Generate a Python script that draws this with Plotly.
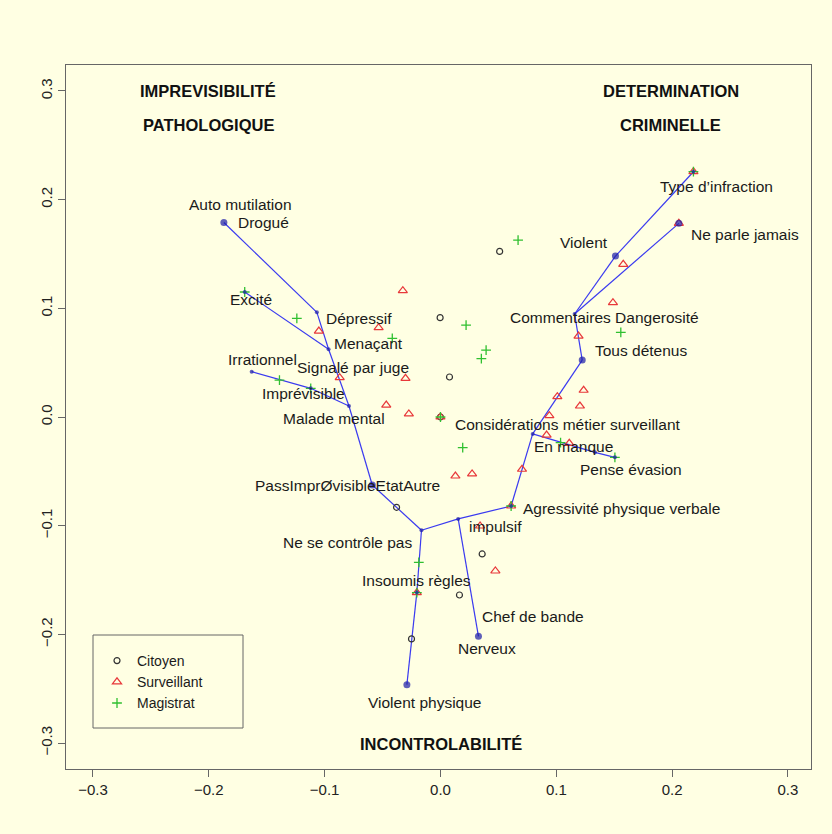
import plotly.graph_objects as go

# --- Individual respondents, by group (first two factorial axes) ---
citoyen_x = [0.0511, -0.0003, 0.0078, 0.0, -0.0379, 0.036, 0.0164, -0.025]
citoyen_y = [0.1524, 0.0914, 0.0368, 0.0, -0.0831, -0.126, -0.1638, -0.2042]

surveillant_x = [-0.0325, -0.0534, -0.105, -0.087, -0.0302, -0.0468, -0.0273, 0.0,
                 0.0129, 0.0273, 0.0704, 0.061, 0.0342, 0.0474, -0.0204, 0.0916,
                 0.1112, 0.094, 0.1204, 0.1009, 0.1236, 0.1192, 0.1489, 0.1578,
                 0.2058, 0.2184]
surveillant_y = [0.1162, 0.0822, 0.0791, 0.0362, 0.0356, 0.011, 0.0028, 0.0,
                 -0.0543, -0.0524, -0.0481, -0.0819, -0.1003, -0.1417, -0.1616, -0.0166,
                 -0.0242, 0.0012, 0.0101, 0.0187, 0.0246, 0.0745, 0.1052, 0.1405,
                 0.1782, 0.2257]

magistrat_x = [0.067, 0.0221, 0.0394, 0.0353, -0.0416, -0.124, -0.169, -0.139,
               -0.112, 0.0, 0.0192, 0.1037, 0.1506, 0.1557, -0.0187, -0.0204,
               0.061, 0.2184]
magistrat_y = [0.1628, 0.0846, 0.0616, 0.0537, 0.0724, 0.0908, 0.115, 0.034,
               0.0264, 0.0, -0.0282, -0.0236, -0.0371, 0.0779, -0.1337, -0.1616,
               -0.0819, 0.2257]

# --- Tree of modalities ---
node_x = [-0.187, -0.1067, -0.0966, -0.169, -0.163, -0.112, -0.079, -0.0589,
          -0.0164, -0.0204, -0.029, 0.0153, 0.0328, 0.061, 0.0796, 0.1334,
          0.1506, 0.1224, 0.1158, 0.1511, 0.2184, 0.2058]
node_y = [0.179, 0.0963, 0.0623, 0.115, 0.0417, 0.0264, 0.0101, -0.0626,
          -0.1042, -0.1616, -0.2463, -0.0938, -0.2018, -0.0819, -0.0156, -0.0325,
          -0.0371, 0.0524, 0.0948, 0.1481, 0.2257, 0.1782]
node_big = [1, 0, 0, 0, 0, 0, 0, 1, 0, 0, 1, 0, 1, 0, 0, 0, 0, 1, 0, 1, 0, 1]
edges = [(0, 1), (1, 2), (3, 2), (2, 6), (4, 5), (5, 6), (6, 7), (7, 8), (8, 9),
         (9, 10), (8, 11), (11, 12), (11, 13), (13, 14), (14, 15), (15, 16),
         (14, 17), (17, 18), (18, 19), (19, 20), (18, 21)]

# --- Modality labels (text, x, y) ---
label_text = ["Auto mutilation", "Drogué", "Excité", "Dépressif", "Menaçant",
              "Irrationnel", "Signalé par juge", "Imprévisible", "Malade mental",
              "PassImprØvisibleEtatAutre", "Ne se contrôle pas", "Insoumis règles",
              "Chef de bande", "Nerveux", "Violent physique", "impulsif",
              "Agressivité physique verbale", "Considérations métier surveillant",
              "En manque", "Pense évasion", "Tous détenus", "Commentaires Dangerosité",
              "Violent", "Ne parle jamais", "Type d’infraction"]
label_x = [-0.1727, -0.1529, -0.1636, -0.0707, -0.0623, -0.1535, -0.0755, -0.1184,
           -0.0922, -0.0805, -0.0805, -0.0208, 0.0798, 0.0401, -0.0134, 0.0479,
           0.1567, 0.1103, 0.1152, 0.1645, 0.1728, 0.1414, 0.1237, 0.2625, 0.2379]
label_y = [0.1957, 0.1794, 0.1083, 0.0905, 0.0678, 0.0525, 0.0458, 0.0212,
           -0.0018, -0.0626, -0.1157, -0.1509, -0.1838, -0.2128, -0.2629, -0.1003,
           -0.084, -0.0068, -0.0267, -0.0481, 0.061, 0.0914, 0.1604, 0.1675, 0.2119]

# --- Axis poles ---
pole_text = ["IMPREVISIBILITÉ", "PATHOLOGIQUE", "DETERMINATION", "CRIMINELLE",
             "INCONTROLABILITÉ"]
pole_x = [-0.2007, -0.2007, 0.199, 0.199, 0.0004]
pole_y = [0.3, 0.2687, 0.3, 0.2687, -0.3009]

ticks = [-0.3, -0.2, -0.1, 0.0, 0.1, 0.2, 0.3]
tick_labels = ["-0.3", "-0.2", "-0.1", "0.0", "0.1", "0.2", "0.3"]
tick_labels = [t.replace("-", "\u2212") for t in tick_labels]

BG = "#FFFFE3"
FONT = "Liberation Sans, Arial, sans-serif"
BLUE_LINE = "#3a3af0"
BLUE_DOT = "#1b1ba6"

fig = go.Figure()

# tree segments
ex, ey = [], []
for a, b in edges:
    ex += [node_x[a], node_x[b], None]
    ey += [node_y[a], node_y[b], None]
fig.add_trace(go.Scatter(x=ex, y=ey, mode="lines", showlegend=False,
                         line=dict(color=BLUE_LINE, width=1.2), hoverinfo="skip"))

fig.add_trace(go.Scatter(x=citoyen_x, y=citoyen_y, mode="markers", name="Citoyen",
                         marker=dict(symbol="circle-open", size=6,
                                     color="#333333", line=dict(width=1.2))))
fig.add_trace(go.Scatter(x=surveillant_x, y=surveillant_y, mode="markers", name="Surveillant",
                         marker=dict(symbol="triangle-up-open", size=8,
                                     color="#e8383a", line=dict(width=1.2))))
fig.add_trace(go.Scatter(x=magistrat_x, y=magistrat_y, mode="markers", name="Magistrat",
                         marker=dict(symbol="cross-thin-open", size=7,
                                     color="#30c030", line=dict(width=1.3))))

# tree nodes
fig.add_trace(go.Scatter(x=node_x, y=node_y, mode="markers", showlegend=False,
                         marker=dict(symbol="circle",
                                     size=[7 if b else 4 for b in node_big],
                                     color=BLUE_DOT, line=dict(width=0))))

for t, x, y in zip(label_text, label_x, label_y):
    fig.add_annotation(x=x, y=y, text=t, showarrow=False, xanchor="center",
                       yanchor="middle", font=dict(family=FONT, size=15.5, color="#1a1a1a"))
for t, x, y in zip(pole_text, pole_x, pole_y):
    fig.add_annotation(x=x, y=y, text="<b>" + t + "</b>", showarrow=False,
                       xanchor="center", yanchor="middle",
                       font=dict(family=FONT, size=16.5, color="#111111"))

# legend frame
fig.add_shape(type="rect", xref="paper", yref="paper",
              x0=(93 - 66) / 745, x1=(243 - 66) / 745,
              y0=(769 - 728) / 704, y1=(769 - 635) / 704,
              line=dict(color="#666666", width=1), fillcolor="rgba(0,0,0,0)")

axis_common = dict(tickvals=ticks, ticktext=tick_labels, ticks="outside", ticklen=7,
                   tickcolor="#666666", showline=True, linecolor="#666666", linewidth=1,
                   mirror=True, showgrid=False, zeroline=False,
                   tickfont=dict(family=FONT, size=15, color="#222222"))

fig.update_layout(
    width=832, height=834,
    margin=dict(l=66, r=21, t=65, b=65),
    paper_bgcolor=BG, plot_bgcolor=BG,
    xaxis=dict(range=[-0.3233, 0.3199], **axis_common),
    yaxis=dict(range=[-0.3239, 0.3239], tickangle=-90, **axis_common),
    legend=dict(x=(97 - 66) / 745, y=(769 - 645) / 704, xanchor="left", yanchor="top",
                bgcolor="rgba(0,0,0,0)", borderwidth=0,
                font=dict(family=FONT, size=14, color="#1a1a1a"),
                tracegroupgap=0, itemsizing="trace"),
    showlegend=True,
)

fig.write_html("out.html")
